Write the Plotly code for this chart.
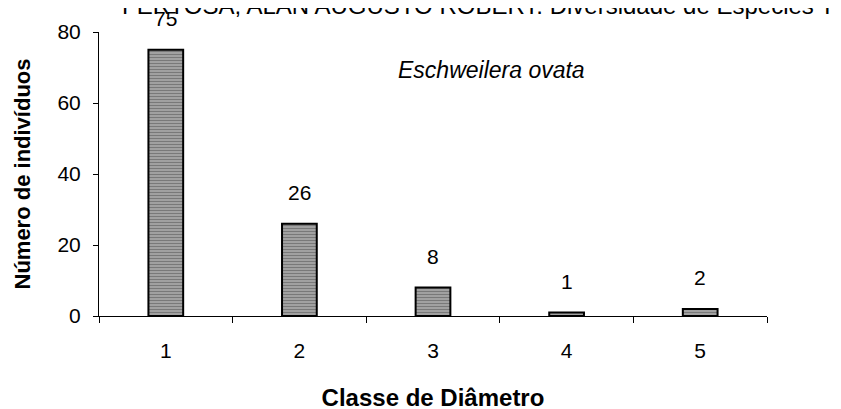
import plotly.graph_objects as go

# Classes de diâmetro e número de indivíduos
classes = ["1", "2", "3", "4", "5"]
individuos = [75, 26, 8, 1, 2]
y_ticks = [0, 20, 40, 60, 80]

header = "FERTOSA, ALAN AUGUSTO ROBERT: Diversidade de Espécies T"
species = "Eschweilera ovata"

font_family = "Liberation Sans, Arial, sans-serif"

# page body adds an 8px offset, so the figure is laid out 8px up/left
W, H = 841, 409
ML, MR, MT, MB = 91, 82, 24, 101
PW, PH = W - ML - MR, H - MT - MB


def px_x(x):
    return (x - 8 - ML) / PW


def px_y(y):
    return (H - MB - (y - 8)) / PH


fig = go.Figure()

fig.add_trace(go.Bar(
    x=classes,
    y=individuos,
    marker=dict(
        color="#9c9c9c",
        line=dict(color="black", width=2),
        pattern=dict(shape="-", fgcolor="#4a4a4a", bgcolor="#a8a8a8", size=3, solidity=0.45),
    ),
    showlegend=False,
))

# value labels above bars
for i, v in enumerate(individuos):
    fig.add_annotation(
        x=i, y=v, text=str(v), showarrow=False,
        xanchor="center", yanchor="middle", yshift=31,
        font=dict(size=21, color="black", family=font_family),
    )

fig.add_annotation(
    x=px_x(492), y=px_y(70), xref="paper", yref="paper",
    text="<i>" + species + "</i>", showarrow=False,
    xanchor="center", yanchor="middle",
    font=dict(size=23, color="black", family=font_family),
)

# page header, cut off at the top edge like in the source
fig.add_annotation(
    x=px_x(120), y=px_y(21), xref="paper", yref="paper",
    text=header, showarrow=False,
    xanchor="left", yanchor="bottom",
    font=dict(size=24, color="black", family=font_family),
)

fig.update_layout(
    width=W,
    height=H,
    margin=dict(l=ML, r=MR, t=MT, b=MB),
    paper_bgcolor="white",
    plot_bgcolor="white",
    bargap=0.74,
    font=dict(family=font_family, color="black"),
    xaxis=dict(
        type="category",
        range=[-0.5, 4.5],
        tickson="boundaries",
        ticks="outside",
        ticklen=6,
        tickcolor="black",
        showline=True,
        linecolor="black",
        linewidth=1,
        showgrid=False,
        tickfont=dict(size=21),
        ticklabelstandoff=16,
        title=dict(text="<b>Classe de Diâmetro</b>", font=dict(size=24), standoff=27),
    ),
    yaxis=dict(
        range=[0, 80],
        tickvals=y_ticks,
        ticks="outside",
        ticklen=5,
        tickcolor="black",
        showline=True,
        linecolor="black",
        linewidth=1,
        showgrid=False,
        zeroline=False,
        tickfont=dict(size=21),
        ticklabelstandoff=8,
        title=dict(text="<b>Número de indivíduos</b>", font=dict(size=22), standoff=20),
    ),
)

fig.write_html("out.html")
